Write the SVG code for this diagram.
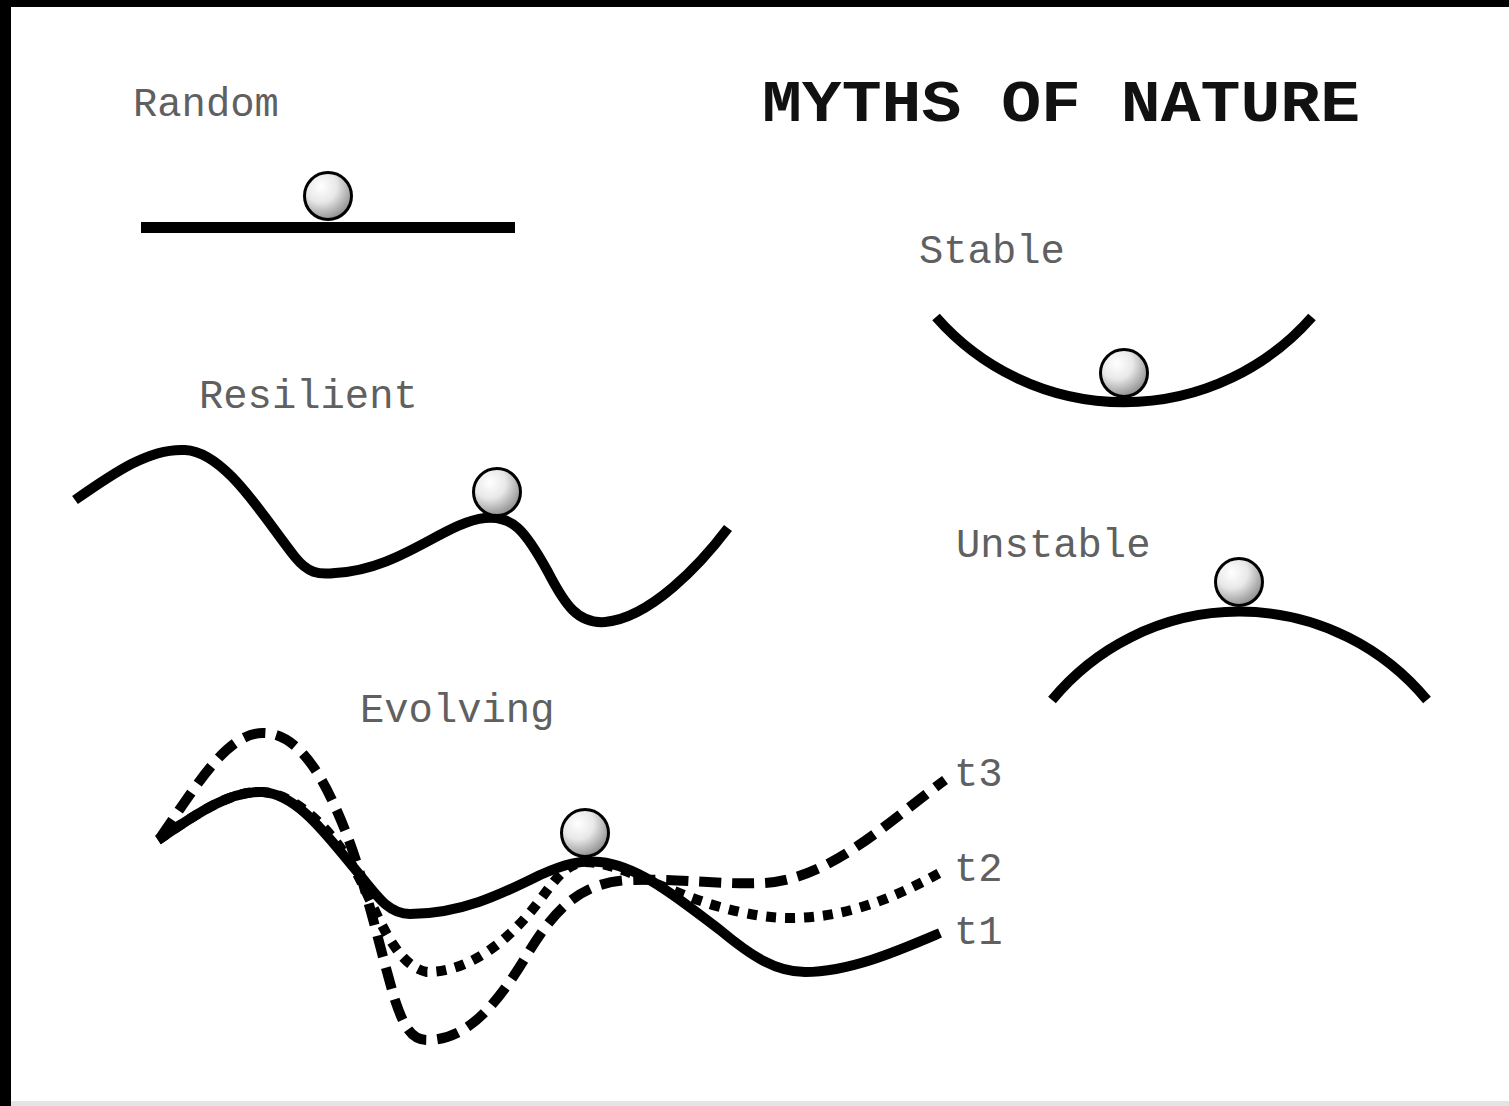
<svg xmlns="http://www.w3.org/2000/svg" width="1509" height="1106" viewBox="0 0 1509 1106">
<defs>
<radialGradient id="ballg" cx="0.35" cy="0.3" r="0.75">
<stop offset="0" stop-color="#ffffff"/>
<stop offset="0.45" stop-color="#e8e8e8"/>
<stop offset="1" stop-color="#8a8a8a"/>
</radialGradient>
<style>
.lbl{font-family:"Liberation Mono","Courier New",monospace;font-size:40.5px;fill:#606060}
.title{font-family:"Liberation Mono","Courier New",monospace;font-size:60px;font-weight:bold;fill:#111111}
.curve{fill:none;stroke:#000;stroke-width:10;stroke-linecap:butt;stroke-linejoin:round}
.dot{stroke-dasharray:10 9}
.dash{stroke-dasharray:22 11}
.ball{fill:url(#ballg);stroke:#000;stroke-width:3}
</style>
</defs>
<rect x="0" y="0" width="1509" height="1106" fill="#ffffff"/>
<rect x="0" y="0" width="1509" height="7" fill="#000"/>
<rect x="0" y="0" width="11" height="1106" fill="#000"/>
<rect x="11" y="1101" width="1498" height="5" fill="#e4e4e4"/>

<g id="title"><text class="title" x="762" y="121" textLength="598" lengthAdjust="spacingAndGlyphs">MYTHS OF NATURE</text></g>

<g id="random">
<text class="lbl" x="133" y="116">Random</text>
<line x1="141" y1="227.5" x2="515" y2="227.5" stroke="#000" stroke-width="11"/>
<circle class="ball" cx="328" cy="196" r="23.5"/>
</g>

<g id="stable">
<text class="lbl" x="919" y="263">Stable</text>
<path class="curve" d="M 936 317 A 250 250 0 0 0 1312 317"/>
<circle class="ball" cx="1124" cy="373" r="23.5"/>
</g>

<g id="resilient">
<text class="lbl" x="199" y="408">Resilient</text>
<path class="curve" d="M 75 500 C 115 472, 150 448, 185 450 C 225 452, 262 515, 295 557 C 308 573, 318 575, 335 573 C 400 570, 445 522, 485 518 C 512 515, 525 530, 548 572 C 565 605, 578 624, 605 622 C 650 618, 700 565, 728 528"/>
<circle class="ball" cx="497" cy="492" r="23.5"/>
</g>

<g id="unstable">
<text class="lbl" x="956" y="557">Unstable</text>
<path class="curve" d="M 1052 700 A 243 243 0 0 1 1427 700"/>
<circle class="ball" cx="1239" cy="582" r="23.5"/>
</g>

<g id="evolving">
<text class="lbl" x="360" y="722">Evolving</text>
<g id="connectors">
<path class="curve dash" d="M 160 838 C 200 780, 228 733, 263 733 C 300 733, 325 780, 345 830 C 365 880, 380 950, 395 1000 C 405 1030, 413 1040, 427 1040 C 470 1040, 500 1000, 530 950 C 555 910, 580 882, 630 880 C 680 878, 720 885, 763 883 C 830 880, 890 820, 945 780"/>
<path class="curve dot" d="M 158 840 C 195 815, 230 790, 263 792 C 300 795, 335 835, 355 870 C 375 905, 392 965, 427 972 C 470 972, 510 940, 540 900 C 555 880, 565 864, 585 862 C 620 862, 660 890, 720 907 C 750 915, 770 918, 790 918 C 850 918, 900 895, 945 870"/>
<path class="curve" d="M 158 840 C 195 815, 230 790, 263 792 C 300 795, 330 840, 360 875 C 380 900, 390 914, 410 914 C 460 914, 500 895, 540 875 C 565 864, 580 860, 600 862 C 640 866, 680 900, 720 930 C 750 955, 775 972, 805 972 C 850 972, 900 950, 940 933"/>
</g>
<circle class="ball" cx="585" cy="833" r="23.5"/>
<text class="lbl" x="954" y="786">t3</text>
<text class="lbl" x="954" y="881">t2</text>
<text class="lbl" x="954" y="944">t1</text>
</g>
</svg>
